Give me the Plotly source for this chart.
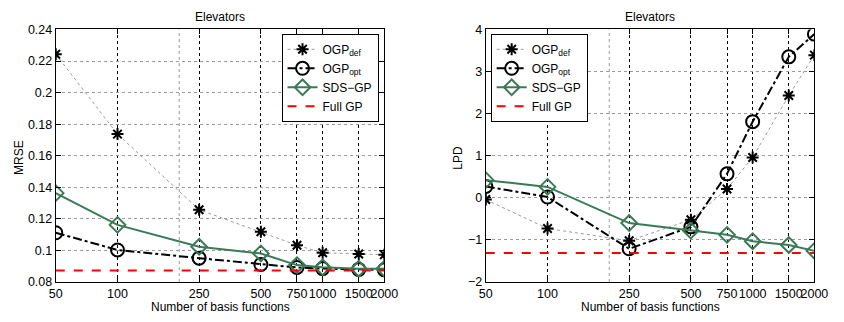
import plotly.graph_objects as go

n_basis = [50, 100, 250, 500, 750, 1000, 1500, 2000]
tick_labels = ["50", "100", "250", "500", "750", "1000", "1500", "2000"]

mrse_ogp_def = [0.2243, 0.1737, 0.1258, 0.1118, 0.1033, 0.0985, 0.0977, 0.0973]
mrse_ogp_opt = [0.1112, 0.1003, 0.0951, 0.0911, 0.0892, 0.0885, 0.0880, 0.0877]
mrse_sds_gp = [0.1363, 0.1162, 0.1023, 0.0981, 0.0907, 0.0893, 0.0884, 0.0884]
mrse_full_gp = 0.0873

lpd_ogp_def = [-0.04, -0.73, -1.02, -0.52, 0.21, 0.96, 2.43, 3.39]
lpd_ogp_opt = [0.27, 0.02, -1.21, -0.69, 0.57, 1.81, 3.35, 3.89]
lpd_sds_gp = [0.42, 0.26, -0.60, -0.78, -0.88, -1.03, -1.12, -1.26]
lpd_full_gp = -1.31

mrse_ticks = [0.08, 0.10, 0.12, 0.14, 0.16, 0.18, 0.20, 0.22, 0.24]
mrse_tick_text = ["0.08", "0.1", "0.12", "0.14", "0.16", "0.18", "0.2", "0.22", "0.24"]
lpd_ticks = [-2, -1, 0, 1, 2, 3, 4]
lpd_tick_text = ["\u22122", "\u22121", "0", "1", "2", "3", "4"]

GREEN = "#3b7a57"
FONT = "Liberation Sans, Arial, Helvetica, sans-serif"

fig = go.Figure()

def add_panel(xa, ya, lg, d_def, d_opt, d_sds, full):
    fig.add_trace(go.Scatter(
        x=n_basis, y=d_def, mode="lines+markers", name="OGP<sub>def</sub>",
        line=dict(color="#9a9a9a", width=1, dash="dot"),
        marker=dict(symbol="asterisk-open", size=10, color="black",
                    line=dict(color="black", width=2)),
        xaxis=xa, yaxis=ya, legend=lg))
    fig.add_trace(go.Scatter(
        x=n_basis, y=d_opt, mode="lines+markers", name="OGP<sub>opt</sub>",
        line=dict(color="black", width=2, dash="dashdot"),
        marker=dict(symbol="circle-open", size=13, color="black",
                    line=dict(color="black", width=2)),
        xaxis=xa, yaxis=ya, legend=lg))
    fig.add_trace(go.Scatter(
        x=n_basis, y=d_sds, mode="lines+markers", name="SDS\u2212GP",
        line=dict(color=GREEN, width=2),
        marker=dict(symbol="diamond-open", size=12, color=GREEN,
                    line=dict(color=GREEN, width=2)),
        xaxis=xa, yaxis=ya, legend=lg))
    fig.add_trace(go.Scatter(
        x=[n_basis[0], n_basis[-1]], y=[full, full], mode="lines", name="Full GP",
        line=dict(color="#ff0000", width=2, dash="dash"),
        xaxis=xa, yaxis=ya, legend=lg))

add_panel("x", "y", "legend", mrse_ogp_def, mrse_ogp_opt, mrse_sds_gp, mrse_full_gp)
add_panel("x2", "y2", "legend2", lpd_ogp_def, lpd_ogp_opt, lpd_sds_gp, lpd_full_gp)

ydom = [1 - 287.5 / 322, 1 - 23.5 / 322]
xdom1 = [50 / 844, 387 / 844]
xdom2 = [491 / 844, 828 / 844]

xcommon = dict(type="log", range=[1.69897, 3.30103], tickvals=n_basis, ticktext=tick_labels,
               tickangle=0, ticks="inside", ticklen=5, tickcolor="black", showline=True,
               linecolor="black", linewidth=1, mirror="allticks", showgrid=True,
               gridcolor="black", gridwidth=1, griddash="dot", zeroline=False,
               tickfont=dict(size=12.5, color="black", family=FONT))
ycommon = dict(ticks="inside", ticklen=5, tickcolor="black", showline=True, linecolor="black",
               linewidth=1, mirror="allticks", showgrid=True, gridcolor="#9a9a9a", gridwidth=1,
               griddash="dot", zeroline=False, tickfont=dict(size=12.5, color="black", family=FONT))

legcommon = dict(yanchor="top", bordercolor="black", borderwidth=1, bgcolor="white",
                 font=dict(size=12, family=FONT, color="black"), tracegroupgap=0,
                 itemwidth=30)

fig.update_layout(
    width=844, height=322, margin=dict(l=0, r=0, t=0, b=0),
    paper_bgcolor="white", plot_bgcolor="white",
    font=dict(family=FONT, size=12, color="black"),
    xaxis=dict(domain=xdom1, anchor="y", **xcommon),
    yaxis=dict(domain=ydom, anchor="x", range=[0.08, 0.24], tickvals=mrse_ticks,
               ticktext=mrse_tick_text, **ycommon),
    xaxis2=dict(domain=xdom2, anchor="y2", **xcommon),
    yaxis2=dict(domain=ydom, anchor="x2", range=[-2, 4], tickvals=lpd_ticks,
                ticktext=lpd_tick_text, **ycommon),
    legend=dict(x=381 / 844, y=1 - 28 / 322, xanchor="right", **legcommon),
    legend2=dict(x=496 / 844, y=1 - 28 / 322, xanchor="left", **legcommon),
    showlegend=True,
)

# light minor grid line at 200 (as in the reference)
for xr, yr in [("x", "y domain"), ("x2", "y2 domain")]:
    fig.add_shape(type="line", xref=xr, yref=yr, x0=200, x1=200, y0=0, y1=1,
                  line=dict(color="#9a9a9a", width=1, dash="dot"), layer="below")

annos = [
    dict(text="Elevators", x=218.5 / 844, y=1 - 10 / 322),
    dict(text="Elevators", x=659.5 / 844, y=1 - 10 / 322),
    dict(text="Number of basis functions", x=218.5 / 844, y=1 - 314 / 322),
    dict(text="Number of basis functions", x=659.5 / 844, y=1 - 314 / 322),
]
for a in annos:
    fig.add_annotation(xref="paper", yref="paper", showarrow=False, xanchor="center",
                       yanchor="middle", font=dict(size=12, family=FONT, color="black"), **a)
fig.add_annotation(text="MRSE", x=12 / 844, y=1 - 157 / 322, xref="paper", yref="paper",
                   showarrow=False, textangle=-90, xanchor="center", yanchor="middle",
                   font=dict(size=12, family=FONT, color="black"))
fig.add_annotation(text="LPD", x=463 / 844, y=1 - 157 / 322, xref="paper", yref="paper",
                   showarrow=False, textangle=-90, xanchor="center", yanchor="middle",
                   font=dict(size=12, family=FONT, color="black"))

fig.write_html("out.html")
